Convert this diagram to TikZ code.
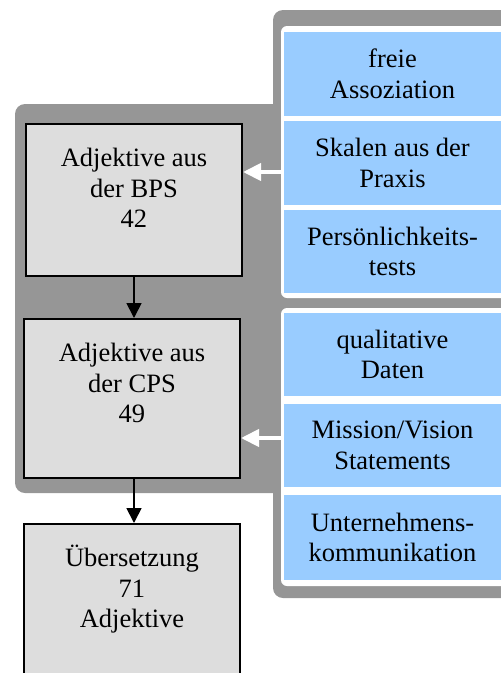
\documentclass[tikz,border=0pt]{standalone}
\usepackage{fontspec}
\setmainfont{Liberation Serif}
\usetikzlibrary{arrows.meta}
\definecolor{panelgray}{RGB}{150,150,150}
\definecolor{cellblue}{RGB}{153,204,255}
\definecolor{boxgray}{RGB}{221,221,221}
\begin{document}
\begin{tikzpicture}[x=1pt,y=-1pt,
  txt/.style={font=\fontsize{26.5}{30.5}\selectfont, align=center, inner sep=0pt},
  stepbox/.style={draw=black, line width=2pt, fill=boxgray, minimum width=216pt, inner sep=0pt},
  cell/.style={fill=cellblue, minimum width=217pt, inner sep=0pt, txt},
  flow/.style={draw=black, line width=1.8pt, -{Triangle[length=15pt,width=15pt]}},
  feed/.style={draw=white, line width=4pt, -{Triangle[length=18pt,width=17pt]}},
  panel/.style={fill=panelgray, rounded corners=10pt},
  group/.style={fill=white, rounded corners=6pt}
]
\useasboundingbox (0,0) rectangle (501,673);
\clip (0,0) rectangle (501,673);

% grey background panels
\fill[panel] (15,104) rectangle (290,493);
\fill[panel] (273,10) rectangle (530,598);

% white frames holding the source cells
\fill[group] (281,26) rectangle (530,298);
\fill[group] (281,308) rectangle (530,586);

% source cells
\node[cell, minimum height=84pt] (c1) at (392.5,74)    {freie\\Assoziation};
\node[cell, minimum height=84pt] (c2) at (392.5,163)   {Skalen aus der\\Praxis};
\node[cell, minimum height=83pt] (c3) at (392.5,251.5) {Persönlichkeits-\\tests};
\node[cell, minimum height=83pt] (c4) at (392.5,354.5) {qualitative\\Daten};
\node[cell, minimum height=83pt] (c5) at (392.5,445.5) {Mission/Vision\\Statements};
\node[cell, minimum height=85pt] (c6) at (392.5,537.5) {Unternehmens-\\kommunikation};

% process boxes
\node[stepbox, minimum height=152pt] (bps) at (134,200) {};
\node[txt, anchor=north, yshift=-22pt] (bpst) at (bps.north) {\strut Adjektive aus\\der BPS\\42};

\node[stepbox, minimum height=159pt] (cps) at (132,398.5) {};
\node[txt, anchor=north, yshift=-22pt] (cpst) at (cps.north) {\strut Adjektive aus\\der CPS\\49};

\node[stepbox, minimum height=176pt] (ueb) at (132,612) {};
\node[txt, anchor=north, yshift=-22pt] (uebt) at (ueb.north) {\strut Übersetzung\\71\\Adjektive};

% flow arrows
\draw[flow] (bps.south) -- (bps.south |- cps.north);
\draw[flow] (cps.south -| bps.south) -- (bps.south |- ueb.north);

% feeding arrows from the source groups
\coordinate (fa) at (281,172);
\coordinate (fb) at (281,438);
\draw[feed] (fa) -- (fa -| bps.east);
\draw[feed] (fb) -- (fb -| cps.east);
\end{tikzpicture}
\end{document}
